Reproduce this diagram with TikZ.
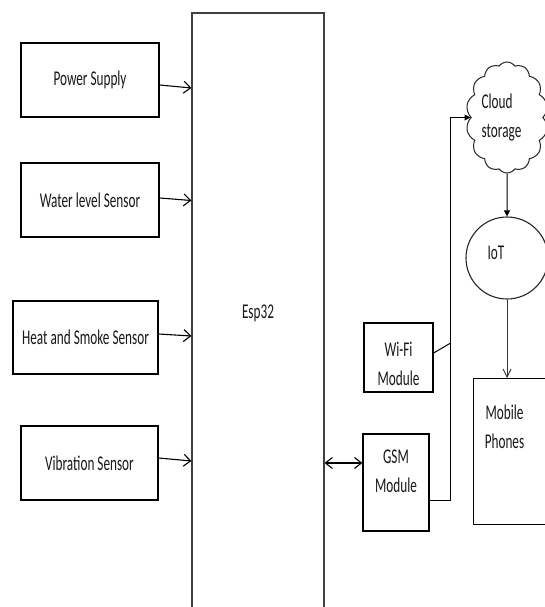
\documentclass[tikz,border=0pt]{standalone}
\usepackage{fontspec}
\newfontfamily\cfont[FakeStretch=0.63]{Carlito}
\usetikzlibrary{arrows.meta,shapes.symbols,calc}
\begin{document}
\begin{tikzpicture}[x=1pt,y=-1pt,
  txt/.style={font=\cfont\fontsize{21}{29}\selectfont, text=black!90, align=center, inner sep=0pt},
  box/.style={draw=black, line width=1.3pt, inner sep=0pt, txt},
  arr/.style={line width=1.1pt, -{Straight Barb[length=7pt,width=12pt]}},
  dbl/.style={line width=1.1pt, {Straight Barb[length=7pt,width=11pt]}-{Straight Barb[length=7pt,width=11pt]}},
  tri/.style={line width=1pt, -{Triangle[length=6pt,width=6pt]}},
  arrv/.style={line width=0.9pt, draw=black!80, -{Straight Barb[length=8pt,width=8pt]}}]
\clip (0,0) rectangle (545,607);
\fill[white] (0,0) rectangle (545,607);

% sensors
\node[box, minimum width=138pt, minimum height=74pt] (ps) at (90,80) {Power Supply};
\node[box, minimum width=138pt, minimum height=74pt] (wl) at (90,200) {Water level Sensor};
\node[box, minimum width=145pt, minimum height=73pt] (hs) at (85.5,337.5) {Heat and Smoke Sensor};
\node[box, minimum width=137pt, minimum height=74pt] (vs) at (89.5,463) {Vibration Sensor};

% Esp32
\node[box, draw=black!75, line width=1.1pt, minimum width=132pt, minimum height=600pt] (esp) at (258,313) {Esp32};

\draw[arr] ($(ps.east)+(0,5)$) -- ($(esp.west |- ps.east)+(0,8)$);
\draw[arr] ($(wl.east)+(0,-2)$) -- ($(esp.west |- wl.east)+(0,0.5)$);
\draw[arr] ($(hs.east)+(0,-3.5)$) -- ($(esp.west |- hs.east)+(0,-1.5)$);
\draw[arr] ($(vs.east)+(0,-5)$) -- ($(esp.west |- vs.east)+(0,-2)$);

% modules
\node[box, minimum width=69pt, minimum height=69pt] (wifi) at (398.5,357.5) {};
\node[txt] (wifitxt) at (398.5,363.5) {Wi-Fi\\Module};
\node[box, minimum width=66pt, minimum height=97pt] (gsm) at (396,482.5) {};
\node[txt] (gsmtxt) at (396,471) {GSM\\Module};

\coordinate (g1) at ($(gsm.west)+(0,-19.5)$);
\draw[dbl] (esp.east |- g1) -- (g1);

% cloud, IoT, phones
\node[cloud, cloud puffs=14, cloud puff arc=110, cloud ignores aspect, draw=black!85, line width=1pt,
      minimum width=82pt, minimum height=111pt, inner sep=0pt] (cloud) at (507,117.5) {};
\node[txt, align=left] (cloudtxt) at (501.5,117.5) {Cloud\\storage};
\node[circle, draw=black!85, line width=1.1pt, minimum size=82pt, inner sep=0pt] (iot) at (507,258) {};
\node[txt] (iottxt) at (496,253) {IoT};
\node[box, line width=1.1pt, minimum width=87pt, minimum height=146pt, anchor=north west] (mob) at (473,378) {};
\node[txt] (mobtxt) at (504.5,426.5) {Mobile\\Phones};

\draw[tri] (cloud.south) -- (iot.north);
\draw[arrv] (iot.south) -- (iot.south |- mob.north);

\coordinate (c1) at ($(gsm.south east)+(21,-31)$);
\coordinate (c2) at (c1 |- cloud.west);
\draw[tri] ($(gsm.south east)+(0,-31)$) -- (c1) -- (c2) -- (cloud.west);
\draw[line width=1pt] ($(wifi.east)+(0,-4.5)$) -- ($(c1 |- wifi.east)+(0,-14.5)$);
\end{tikzpicture}
\end{document}
